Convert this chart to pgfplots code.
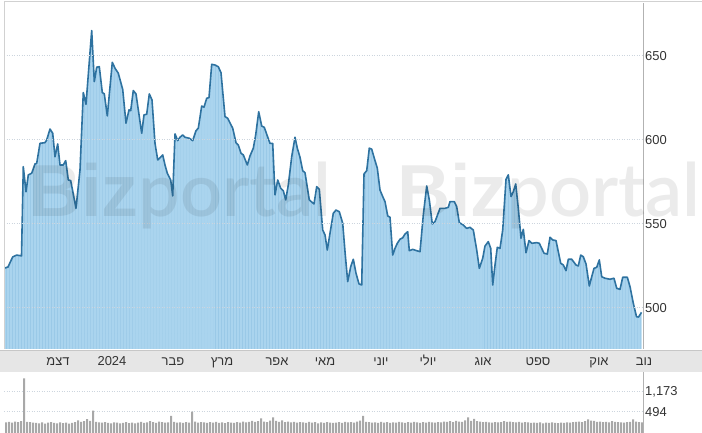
\documentclass[border=0pt]{standalone}
\usepackage{pgfplots}
\pgfplotsset{compat=1.18}
\usepackage{pgfplotstable}
\usepackage{fontspec}
\setmainfont{Liberation Sans}
\newfontfamily\heb[Script=Hebrew]{Liberation Sans}
\newfontfamily\wmthin{Lato Thin}
\usetikzlibrary{patterns}
\TeXXeTstate=1

\definecolor{areafill}{RGB}{170,212,238}
\definecolor{areastripe}{RGB}{154,201,231}
\definecolor{lineblue}{RGB}{46,114,160}
\definecolor{gridc}{RGB}{205,213,222}
\definecolor{bandgray}{RGB}{230,230,230}
\definecolor{volgray}{RGB}{168,168,168}
\definecolor{txt}{RGB}{51,51,51}

% price: x in chart pixels, y = price
\pgfplotstableread{
x y
5 523.8
8 524.4
12.7 530.4
16.7 531.5
21.5 531
23.3 584.1
26 569.2
28.3 579.2
31.7 580.2
35 585.7
36.7 586.1
40 598
45 598.4
46.7 600
50 606.5
52.7 604
55 590
57.7 597.6
60 585.1
63.3 585.1
65.7 587.7
68.3 576.2
70.7 575.8
76 559.3
80 582.1
83.3 628.2
86 621.2
91.7 665.1
94.3 634.7
96.7 643.3
99.3 643.6
102.3 628.2
104.3 627.4
107.3 614.3
112.3 646.2
115 642.7
118.3 639.7
122.7 630.1
126 610
129 617.9
130.7 617.4
133.3 629.4
136 627.4
141.7 604
144 614.9
146.7 615.3
149.3 627.4
152 623.8
155 598
157.7 588.1
160 589.4
162.7 591.1
165 585.1
167.3 580.2
170.7 576.2
172.7 566.7
175 603.6
177.7 599.6
180 601.6
182.7 603
185 601.6
189.3 601
192.7 599.6
196 605.5
198.3 607
201.7 620.2
204 619.5
206.7 624.8
209 625.2
211.7 645
215 644.6
218.3 643.6
221 640
225 613.9
227.7 612.9
232.7 607
236 598.4
238.3 597
241 592.1
243.3 591.1
247.3 585.1
250 590.5
253.3 595.1
255.7 603
258.7 616.8
261.7 608.3
264.3 607.5
267.3 602.4
270 598
272.7 598
275 567.3
277.7 576.2
280.7 571.3
283.3 569.8
285.7 564.3
288.3 573.2
291.7 590
295 601.6
297.3 595.1
300 589.7
302.7 581.7
305 580.5
309.3 564.3
314 561.9
316.7 572.2
319.3 570.7
322.7 546.4
325 543.5
327.3 534.5
330 544.5
333.3 556.4
336 558.3
339.3 557.3
342.7 550.4
345 533.5
347.7 515.7
350.7 524.6
353.3 529
356 520.7
359 514.3
361.7 513.7
364 579.8
366.7 581.7
369.3 595.1
371.7 594.5
374.3 589.1
377.3 583.2
380 570.2
382.7 566.3
385 563.3
387.7 554.8
390 554
392.7 531.5
395 535.5
397.3 538.5
400 540.9
402.7 541.8
405 544
407.7 545.4
409.3 534.1
412.7 534.9
416.7 534.1
420 533.5
423.3 555.4
426.7 572.6
429.3 564.3
432.3 550
435 551.4
440 559.3
445 559.3
448.3 559.9
450 563.3
454.3 563.3
456.7 560.3
459.3 550.8
463.3 549.4
466.7 547.4
470 548
473.3 546.4
476.7 534.5
479.3 523.6
482.7 529.6
485 536.9
488.3 539.5
490.7 535.5
492.7 513.7
495 525.6
497.3 536.1
500 535.5
502.7 546.4
506 576.6
508.3 579.2
511 566.3
513.3 569.2
515.7 573.8
518.3 559.3
521 541.5
523.3 546.8
526 532.9
529 540.1
531.7 538.5
536.7 538.9
539.3 538.5
544 532.6
547.3 532.1
550 542.1
552.7 540.5
556 540.1
560.7 526.6
563.3 525.6
566 522.2
568.3 529
571.7 529
576 525.6
578.3 525
580.7 531.5
583.3 530.5
586 526.2
589.3 513.1
591.7 518.6
594 523.6
596.7 524.2
599.3 528.6
601.7 518.6
605 517.7
610 517.1
614 517.7
616.7 511.7
620 511.1
622.7 518.3
627.3 518.3
630 512.7
633.3 502.8
636.5 494.8
638.5 494.6
641.5 497.4
}\pricedata

\pgfplotstableread[row sep=\\]{
x v\\
6 130\\ 9 150\\ 12 120\\ 15 160\\ 18 140\\ 21 170\\ 24 1630\\ 27 150\\ 30 140\\ 33 120\\ 36 110\\
39 100\\ 42 130\\ 45 90\\ 48 120\\ 51 140\\ 54 110\\ 57 95\\ 60 130\\ 63 105\\ 66 120\\ 69 90\\
72 110\\ 75 140\\ 78 200\\ 81 150\\ 84 170\\ 87 240\\ 90 180\\ 93 528\\ 96 150\\ 99 130\\ 102 120\\
105 140\\ 108 110\\ 111 100\\ 114 130\\ 117 120\\ 120 95\\ 123 115\\ 126 140\\ 129 105\\ 132 125\\ 135 100\\
138 120\\ 141 150\\ 144 110\\ 147 130\\ 150 170\\ 153 140\\ 156 115\\ 159 160\\ 162 140\\ 165 120\\ 168 130\\
171 348\\ 174 150\\ 177 120\\ 180 135\\ 183 110\\ 186 140\\ 189 125\\ 192 494\\ 195 160\\ 198 120\\ 201 140\\
204 130\\ 207 110\\ 210 140\\ 213 120\\ 216 150\\ 219 115\\ 222 130\\ 225 105\\ 228 140\\ 231 125\\ 234 110\\
237 140\\ 240 120\\ 243 160\\ 246 135\\ 249 150\\ 252 180\\ 255 150\\ 258 170\\ 261 270\\ 264 160\\ 267 140\\
270 190\\ 273 304\\ 276 180\\ 279 150\\ 282 200\\ 285 140\\ 288 160\\ 291 130\\ 294 150\\ 297 120\\ 300 140\\
303 130\\ 306 110\\ 309 150\\ 312 120\\ 315 140\\ 318 100\\ 321 130\\ 324 115\\ 327 140\\ 330 125\\ 333 110\\
336 120\\ 339 140\\ 342 110\\ 345 150\\ 348 130\\ 351 140\\ 354 120\\ 357 160\\ 360 190\\ 363 348\\ 366 150\\
369 140\\ 372 120\\ 375 130\\ 378 110\\ 381 150\\ 384 125\\ 387 140\\ 390 115\\ 393 130\\ 396 120\\ 399 145\\
402 130\\ 405 110\\ 408 140\\ 411 120\\ 414 150\\ 417 130\\ 420 110\\ 423 140\\ 426 125\\ 429 150\\ 432 135\\
435 120\\ 438 140\\ 441 130\\ 444 160\\ 447 150\\ 450 170\\ 453 140\\ 456 180\\ 459 160\\ 462 150\\ 465 200\\
468 304\\ 471 180\\ 474 250\\ 477 170\\ 480 160\\ 483 140\\ 486 150\\ 489 130\\ 492 120\\ 495 140\\ 498 130\\
501 140\\ 504 170\\ 507 150\\ 510 160\\ 513 140\\ 516 130\\ 519 150\\ 522 120\\ 525 140\\ 528 130\\ 531 110\\
534 120\\ 537 110\\ 540 130\\ 543 100\\ 546 120\\ 549 110\\ 552 130\\ 555 115\\ 558 105\\ 561 120\\ 564 110\\
567 130\\ 570 120\\ 573 140\\ 576 150\\ 579 160\\ 582 140\\ 585 170\\ 588 230\\ 591 190\\ 594 180\\ 597 150\\
600 160\\ 603 140\\ 606 150\\ 609 130\\ 612 170\\ 615 150\\ 618 140\\ 621 130\\ 624 120\\ 627 140\\ 630 150\\
633 230\\ 636 160\\ 639 140\\ 642 130\\
}\voldata

\begin{document}
\begin{tikzpicture}[x=1bp,y=1bp]
\useasboundingbox (0,0) rectangle (702,433);
\fill[white] (0,0) rectangle (702,433);
\fill[bandgray] (0,61) rectangle (702,83);
\draw[black!22] (0,83) -- (702,83);

% price panel
\begin{axis}[
    at={(4bp,84bp)}, anchor=south west, scale only axis,
    width=639bp, height=348bp,
    xmin=4, xmax=643, ymin=475.6, ymax=682.7,
    axis line style={draw=none},
    xtick=\empty,
    ytick={500,550,600,650},
    yticklabels={500,550,600,650},
    ytick pos=right, major tick length=0,
    yticklabel style={anchor=west, inner sep=0pt, xshift=2bp,
        font=\fontsize{13}{13}\selectfont, text=txt},
    ymajorgrids,
    grid style={gridc, line width=1bp, dash pattern=on 1bp off 1.5bp},
    axis on top,
]
\addplot[draw=none, fill=areafill,
    postaction={pattern=vertical lines, pattern color=areastripe}]
    table[x=x, y=y] {\pricedata} \closedcycle;
\addplot[lineblue, line width=1.6bp, line join=round] table[x=x, y=y] {\pricedata};
\end{axis}

% month labels
\begin{axis}[
    at={(0bp,61bp)}, anchor=south west, scale only axis,
    width=702bp, height=22bp,
    xmin=0, xmax=702, ymin=0, ymax=1,
    hide y axis, axis line style={draw=none},
    major tick length=0,
    xtick={58,112,173,222,277,325,381,428,483,538,599,644},
    xticklabels={{\heb\beginR דצמ\endR},2024,{\heb\beginR פבר\endR},
        {\heb\beginR מרץ\endR},{\heb\beginR אפר\endR},{\heb\beginR מאי\endR},
        {\heb\beginR יוני\endR},{\heb\beginR יולי\endR},{\heb\beginR אוג\endR},
        {\heb\beginR ספט\endR},{\heb\beginR אוק\endR},{\heb\beginR נוב\endR}},
    xticklabel style={anchor=base, yshift=6.3bp, inner sep=0pt,
        font=\fontsize{13}{13}\selectfont, text=txt},
]
\end{axis}

% volume panel
\begin{axis}[
    at={(4bp,0bp)}, anchor=south west, scale only axis,
    width=639bp, height=61bp,
    xmin=4, xmax=643, ymin=0, ymax=2073,
    axis line style={draw=none},
    xtick=\empty,
    ytick={724,1403},
    yticklabels={494,{1,173}},
    ytick pos=right, major tick length=0,
    yticklabel style={anchor=west, inner sep=0pt, xshift=2bp,
        font=\fontsize{13}{13}\selectfont, text=txt},
    ymajorgrids,
    grid style={gridc, line width=1bp, dash pattern=on 1bp off 1.5bp},
]
\addplot[ybar, bar width=2, fill=volgray, draw=none]
    table[x=x, y expr=\thisrow{v}+230] {\voldata};
\end{axis}

% frame lines
\draw[black!18] (4,84) -- (4,432) -- (702,432);
\draw[black!30] (643,84) -- (643,430);
\draw[black!30] (643,0) -- (643,61);

% watermarks
\node[anchor=base west, inner sep=0pt, text=black, opacity=0.08]
    at (28,216) {\fontsize{74}{74}\selectfont\bfseries Biz\wmthin portal};
\node[anchor=base west, inner sep=0pt, text=black, opacity=0.08]
    at (397,216) {\fontsize{74}{74}\selectfont\bfseries Biz\wmthin portal};
\end{tikzpicture}
\end{document}
